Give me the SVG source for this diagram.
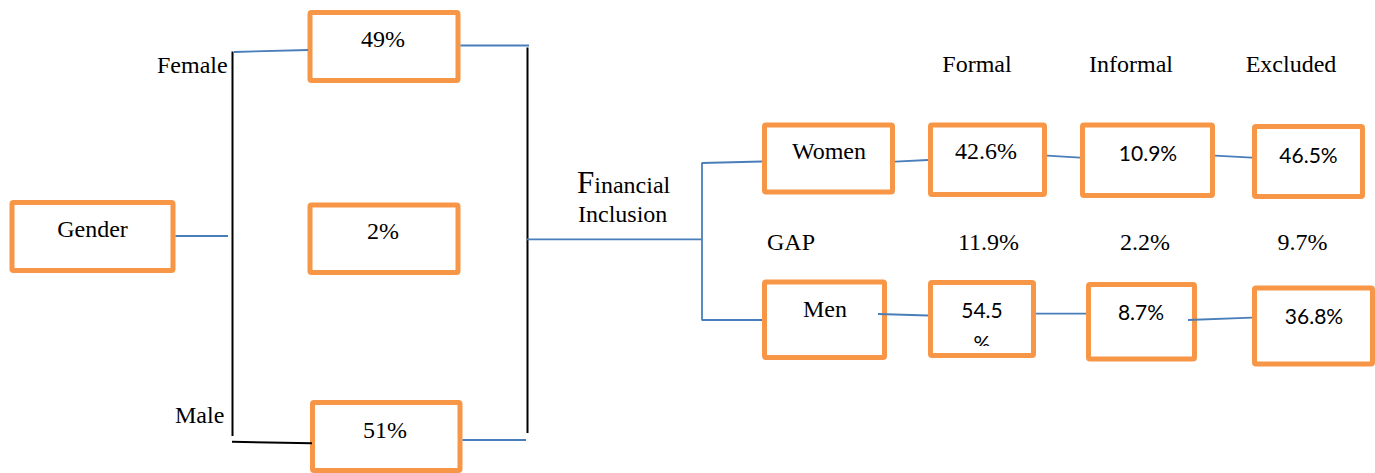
<svg xmlns="http://www.w3.org/2000/svg" width="1375" height="473" viewBox="0 0 1375 473">
  <style>
    .box { fill: #fff; stroke: #F79646; stroke-width: 5; }
    .serif { font-family: "Liberation Serif", "Times New Roman", serif; font-size: 24px; fill: #000; }
    .sans { font-family: Lato, "Open Sans", sans-serif; font-size: 21px; fill: #000; }
    .mid { text-anchor: middle; }
    .blue { stroke: #4A7EBB; stroke-width: 1.8; fill: none; }
    .black { stroke: #000; stroke-width: 2; fill: none; }
  </style>
  <defs>
    <clipPath id="clip-pct">
      <rect x="930" y="320" width="104" height="26"/>
    </clipPath>
  </defs>
  <rect width="1375" height="473" fill="#fff"/>

  <!-- free labels -->
  <g id="labels">
    <text class="serif" x="157" y="73">Female</text>
    <text class="serif" x="175" y="423">Male</text>
    <text class="serif" x="577" y="193"><tspan font-size="31px">F</tspan>inancial</text>
    <text class="serif" x="578" y="222">Inclusion</text>
    <text class="serif mid" x="977" y="72">Formal</text>
    <text class="serif mid" x="1131" y="72">Informal</text>
    <text class="serif mid" x="1291" y="72">Excluded</text>
    <text class="serif" x="767" y="250">GAP</text>
    <text class="serif mid" x="988.5" y="250">11.9%</text>
    <text class="serif mid" x="1145" y="250">2.2%</text>
    <text class="serif mid" x="1302.5" y="250">9.7%</text>
  </g>

  <!-- nodes -->
  <g id="gender">
    <rect class="box" x="12" y="202.5" width="161" height="68" rx="1.5"/>
    <text class="serif mid" x="92.5" y="237">Gender</text>
  </g>
  <g id="female-share">
    <rect class="box" x="310" y="12.5" width="148" height="68" rx="1.5"/>
    <text class="serif mid" x="383" y="47">49%</text>
  </g>
  <g id="other-share">
    <rect class="box" x="310" y="205" width="148" height="67.5" rx="1.5"/>
    <text class="serif mid" x="383" y="239">2%</text>
  </g>
  <g id="male-share">
    <rect class="box" x="312.5" y="402.5" width="147.5" height="68" rx="1.5"/>
    <text class="serif mid" x="385" y="438">51%</text>
  </g>
  <g id="women">
    <rect class="box" x="764.5" y="125" width="128" height="67" rx="1.5"/>
    <text class="serif mid" x="829" y="159">Women</text>
  </g>
  <g id="women-formal">
    <rect class="box" x="930.5" y="125" width="114" height="69.5" rx="1.5"/>
    <text class="serif mid" x="986" y="159">42.6%</text>
  </g>
  <g id="women-informal">
    <rect class="box" x="1082.5" y="125" width="130" height="70.5" rx="1.5"/>
    <text class="sans mid" x="1148" y="161">10.9%</text>
  </g>
  <g id="women-excluded">
    <rect class="box" x="1254.5" y="126.5" width="108" height="70" rx="1.5"/>
    <text class="sans mid" x="1308.5" y="162.5">46.5%</text>
  </g>
  <g id="men">
    <rect class="box" x="764.5" y="282" width="120" height="75.5" rx="1.5"/>
    <text class="serif mid" x="825" y="317">Men</text>
  </g>
  <g id="men-formal">
    <rect class="box" x="930.5" y="282.5" width="103" height="73" rx="1.5"/>
    <text class="sans mid" x="982" y="317.5">54.5</text>
    <text class="sans mid" x="982" y="351" clip-path="url(#clip-pct)">%</text>
  </g>
  <g id="men-informal">
    <rect class="box" x="1088.5" y="284.5" width="106" height="74.5" rx="1.5"/>
    <text class="sans mid" x="1141" y="320">8.7%</text>
  </g>
  <g id="men-excluded">
    <rect class="box" x="1254.5" y="288" width="118" height="76" rx="1.5"/>
    <text class="sans mid" x="1314" y="324">36.8%</text>
  </g>

  <!-- connectors -->
  <g id="connectors">
    <line class="black" x1="232.5" y1="51.5" x2="232.5" y2="436"/>
    <line class="black" x1="232" y1="441.7" x2="312" y2="443.3"/>
    <line class="black" x1="527.5" y1="47.5" x2="527.5" y2="433"/>
    <line class="blue" x1="175.5" y1="236" x2="228" y2="236"/>
    <line class="blue" x1="234" y1="52" x2="308" y2="50"/>
    <line class="blue" x1="460.5" y1="45.5" x2="529" y2="45.5"/>
    <line class="blue" x1="462.5" y1="440" x2="526" y2="440"/>
    <line class="blue" x1="527" y1="239.3" x2="702" y2="239.3"/>
    <line class="blue" x1="702" y1="162.5" x2="702" y2="320.5"/>
    <line class="blue" x1="702" y1="163" x2="762" y2="161.5"/>
    <line class="blue" x1="702" y1="320" x2="762" y2="320"/>
    <line class="blue" x1="895" y1="161.7" x2="928" y2="160"/>
    <line class="blue" x1="1047" y1="155.7" x2="1080" y2="157.7"/>
    <line class="blue" x1="1215" y1="155.7" x2="1252" y2="157.7"/>
    <line class="blue" x1="878" y1="314" x2="928" y2="315.5"/>
    <line class="blue" x1="1036" y1="313.7" x2="1086" y2="313.7"/>
    <line class="blue" x1="1188" y1="320" x2="1252" y2="317.7"/>
  </g>
</svg>
